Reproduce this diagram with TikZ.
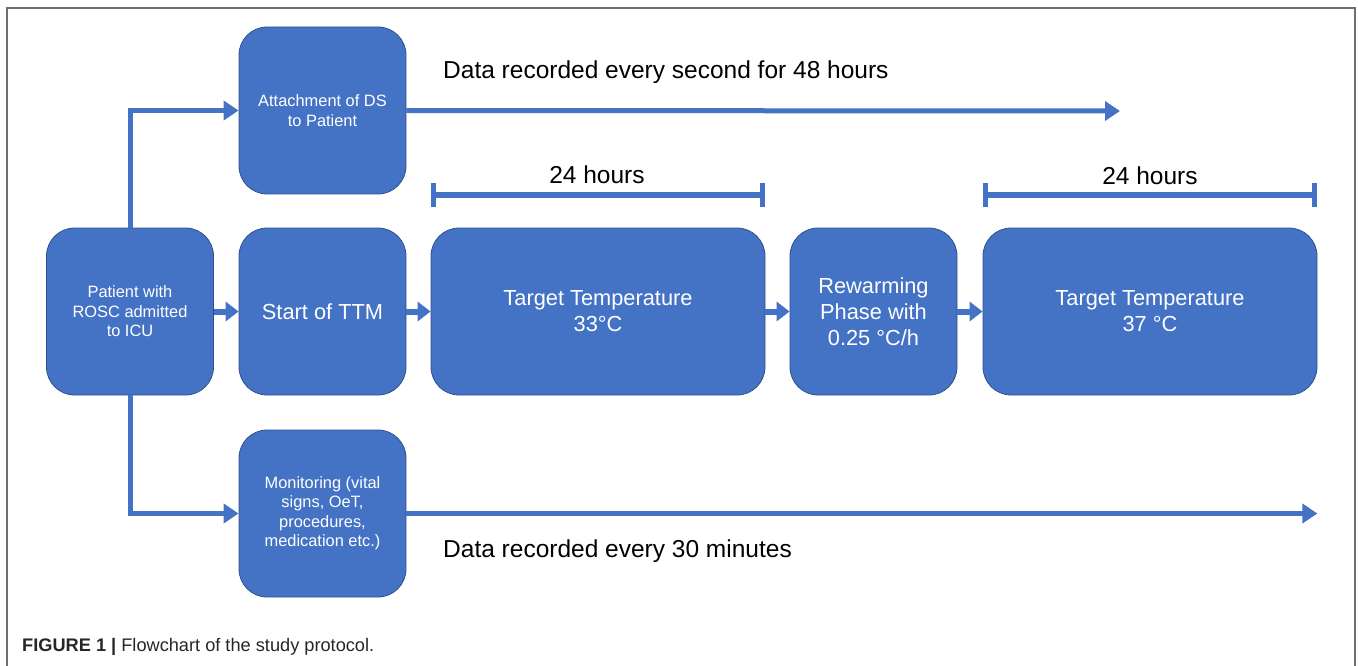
\documentclass[tikz,border=0pt]{standalone}
\usepackage{fontspec}
\setmainfont{Liberation Sans}
\usepackage{xcolor}
\usetikzlibrary{arrows.meta}
\definecolor{boxblue}{HTML}{4472C4}
\definecolor{boxedge}{HTML}{2F528F}
\definecolor{framegray}{HTML}{6E6E6E}

\begin{document}
\begin{tikzpicture}[x=1pt, y=-1pt,
            box/.style = {rectangle, rounded corners=28pt, fill=boxblue,
                         draw=boxedge, line width=0.8pt, text=white,
                         align=center, inner sep=0pt, minimum height=167pt,
                         minimum width=#1},
            box/.default = 167pt,
            small/.style = {font=\fontsize{16.4}{19.5}\selectfont},
            big/.style = {font=\fontsize{21.8}{26}\selectfont},
            note/.style = {font=\fontsize{24.5}{28}\selectfont, inner sep=0pt},
            flow/.style = {draw=boxblue, line width=5pt,
                          -{Triangle[length=15pt, width=19pt]}},
            hop/.style = {draw=boxblue, line width=6pt,
                          -{Triangle[length=13pt, width=19pt]}},
            spanbar/.style = {draw=boxblue, line width=5pt,
                          {Bar[width=23pt]}-{Bar[width=23pt]}}
        ]
            \useasboundingbox (0,0) rectangle (1358,666);
            \draw[framegray, line width=1.5pt] (7,666) -- (7,8) -- (1355,8) -- (1355,666);

            \node (pat) at (130,311.5) [box, small] {Patient with\\ROSC admitted\\to ICU};
            \node (att) at (322.5,110.5) [box, small] {Attachment of DS\\to Patient};
            \node (ttm) at (322.5,311.5) [box, big] {Start of TTM};
            \node (mon) at (322.5,513.5) [box, small] {Monitoring (vital\\signs, OeT,\\procedures,\\medication etc.)};
            \node (t33) at (598,311.5) [box=334pt, big] {Target Temperature\\33°C};
            \node (rew) at (873.5,311.5) [box, big] {Rewarming\\Phase with\\0.25 °C/h};
            \node (t37) at (1150,311.5) [box=334pt, big] {Target Temperature\\37 °C};

            %
            \node (sec) at (443,72) [note, anchor=west] {Data recorded every second for 48 hours};
            \node (min) at (443,551) [note, anchor=west] {Data recorded every 30 minutes};
            \node (h1) at (597,175) [note] {24 hours};
            \node (h2) at (1150,176) [note] {24 hours};
            \coordinate (secend) at (1120,111);
            \coordinate (h1a) at (431,195);
            \coordinate (h1b) at (765,195);
            \coordinate (h2a) at (983,195);
            \coordinate (h2b) at (1317,195);

            %
            \path[flow] (pat.north) |- (att.west);
            \path[flow] (pat.south) |- (mon.west);
            \path[flow] (att.east) -- (secend);
            \path[flow] (mon.east) -- (mon.east -| t37.east);
            \path[hop] (pat) -- (ttm);
            \path[hop] (ttm) -- (t33);
            \path[hop] (t33) -- (rew);
            \path[hop] (rew) -- (t37);
            \path[spanbar] (h1a) -- (h1b);
            \path[spanbar] (h2a) -- (h2b);

            \node (cap) at (22,647) [anchor=west, inner sep=0pt, text=black!85,
                font=\fontsize{18.2}{22}\selectfont] {\textbf{FIGURE 1 |} Flowchart of the study protocol.};
        \end{tikzpicture}
\end{document}
